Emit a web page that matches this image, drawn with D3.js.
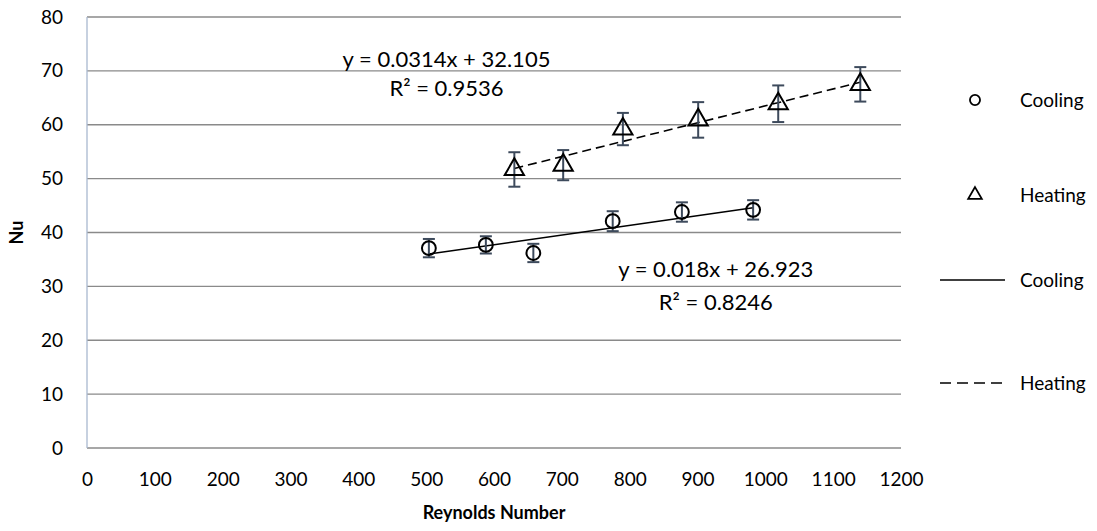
<!DOCTYPE html>
<html>
<head>
<meta charset="utf-8">
<script src="https://cdn.jsdelivr.net/npm/d3@7/dist/d3.min.js"></script>
<style>
  html, body { margin: 0; padding: 0; background: #ffffff; }
  svg { display: block; }
  text { font-family: Lato, "Open Sans", sans-serif; fill: #000; }
</style>
</head>
<body>
<svg id="chart" width="1097" height="531"></svg>
<script>
// Nusselt number vs Reynolds number, cooling and heating runs
const coolingRe  = [504, 588, 658, 775, 877, 982];
const coolingNu  = [37.1, 37.7, 36.2, 42.1, 43.8, 44.2];
const coolingErr = [1.7, 1.6, 1.7, 1.85, 1.8, 1.8];

const heatingRe  = [630, 702, 790, 901, 1019, 1140];
const heatingNu  = [51.7, 52.5, 59.2, 60.9, 63.9, 67.5];
const heatingErr = [3.2, 2.8, 3.0, 3.3, 3.4, 3.2];

// linear trendlines: [slope, intercept, R²]
const coolingFit = [0.018, 26.923, 0.8246];
const heatingFit = [0.0314, 32.105, 0.9536];

const xTicks = [0, 100, 200, 300, 400, 500, 600, 700, 800, 900, 1000, 1100, 1200];
const yTicks = [0, 10, 20, 30, 40, 50, 60, 70, 80];

const legendLabels = ["Cooling", "Heating", "Cooling", "Heating"];

const svg = d3.select("#chart");
const plot = { left: 87, top: 17, right: 901, bottom: 448 };

const x = d3.scaleLinear().domain([0, 1200]).range([plot.left, plot.right]);
const y = d3.scaleLinear().domain([0, 80]).range([plot.bottom, plot.top]);

// horizontal gridlines
svg.append("g")
  .selectAll("line")
  .data(yTicks)
  .join("line")
  .attr("x1", plot.left).attr("x2", plot.right)
  .attr("y1", d => y(d)).attr("y2", d => y(d))
  .attr("stroke", "#8a8a8a")
  .attr("stroke-width", 1.3);

// vertical axis line
svg.append("line")
  .attr("x1", plot.left).attr("x2", plot.left)
  .attr("y1", plot.top).attr("y2", plot.bottom)
  .attr("stroke", "#a9b8d0").attr("stroke-width", 1.3);

// y tick labels
const yAxis = d3.axisLeft(y).tickValues(yTicks).tickSize(0).tickPadding(24);
const gy = svg.append("g").attr("transform", `translate(${plot.left},0)`).call(yAxis);
gy.select(".domain").remove();
gy.selectAll("text").style("font-size", "19px").attr("font-family", "Lato, sans-serif");

// x tick labels
const xAxis = d3.axisBottom(x).tickValues(xTicks).tickFormat(d3.format("d"))
  .tickSize(0).tickPadding(25);
const gx = svg.append("g").attr("transform", `translate(0,${plot.bottom})`).call(xAxis);
gx.select(".domain").remove();
gx.selectAll("text").style("font-size", "19px").attr("font-family", "Lato, sans-serif");

// axis titles
svg.append("text")
  .attr("x", (plot.left + plot.right) / 2)
  .attr("y", 519)
  .attr("text-anchor", "middle")
  .style("font-size", "18px").style("font-weight", "bold")
  .text("Reynolds Number");

svg.append("text")
  .attr("transform", `translate(23,${(plot.top + plot.bottom) / 2}) rotate(-90)`)
  .attr("text-anchor", "middle")
  .style("font-size", "18px").style("font-weight", "bold")
  .text("Nu");

// trendlines
function trend(fit, xs, dash) {
  const x0 = d3.min(xs), x1 = d3.max(xs);
  svg.append("line")
    .attr("x1", x(x0)).attr("y1", y(fit[0] * x0 + fit[1]))
    .attr("x2", x(x1)).attr("y2", y(fit[0] * x1 + fit[1]))
    .attr("stroke", "#000").attr("stroke-width", 1.6)
    .attr("stroke-dasharray", dash);
}
trend(coolingFit, coolingRe, null);
trend(heatingFit, heatingRe, "9,5");

// error bars
function errorBars(xs, ys, es) {
  const g = svg.append("g").attr("stroke", "#3d4a5c").attr("stroke-width", 2);
  xs.forEach((xv, i) => {
    const cx = x(xv), top = y(ys[i] + es[i]), bot = y(ys[i] - es[i]);
    g.append("line").attr("x1", cx).attr("x2", cx).attr("y1", top).attr("y2", bot);
    g.append("line").attr("x1", cx - 6).attr("x2", cx + 6).attr("y1", top).attr("y2", top);
    g.append("line").attr("x1", cx - 6).attr("x2", cx + 6).attr("y1", bot).attr("y2", bot);
  });
}
errorBars(coolingRe, coolingNu, coolingErr);
errorBars(heatingRe, heatingNu, heatingErr);

// markers
const circleSym = d3.symbol().type(d3.symbolCircle).size(150);
const triSym = d3.symbol().type(d3.symbolTriangle).size(160);

svg.append("g").selectAll("path")
  .data(coolingRe.map((r, i) => [r, coolingNu[i]]))
  .join("path")
  .attr("d", circleSym)
  .attr("transform", d => `translate(${x(d[0])},${y(d[1])})`)
  .attr("fill", "none").attr("stroke", "#000").attr("stroke-width", 2);

svg.append("g").selectAll("path")
  .data(heatingRe.map((r, i) => [r, heatingNu[i]]))
  .join("path")
  .attr("d", triSym)
  .attr("transform", d => `translate(${x(d[0])},${y(d[1])})`)
  .attr("fill", "none").attr("stroke", "#000").attr("stroke-width", 2);

// trendline equations
function eqLabel(fit, cx, nuEq, nuR2) {
  svg.append("text").attr("x", x(cx)).attr("y", y(nuEq))
    .attr("text-anchor", "middle").style("font-size", "22px")
    .text(`y = ${fit[0]}x + ${fit[1]}`);
  svg.append("text").attr("x", x(cx)).attr("y", y(nuR2))
    .attr("text-anchor", "middle").style("font-size", "22px")
    .text(`R² = ${fit[2]}`);
}
eqLabel(heatingFit, 530, 70.7, 65.3);
eqLabel(coolingFit, 927, 31.7, 25.6);

// legend
const lg = svg.append("g");
const legY = [100, 195, 280, 383];
lg.append("path").attr("d", d3.symbol().type(d3.symbolCircle).size(80))
  .attr("transform", `translate(975,${legY[0]})`)
  .attr("fill", "none").attr("stroke", "#000").attr("stroke-width", 1.8);
lg.append("path").attr("d", d3.symbol().type(d3.symbolTriangle).size(80))
  .attr("transform", `translate(975,${legY[1]})`)
  .attr("fill", "none").attr("stroke", "#000").attr("stroke-width", 1.8);
lg.append("line").attr("x1", 940).attr("x2", 1005).attr("y1", legY[2]).attr("y2", legY[2])
  .attr("stroke", "#000").attr("stroke-width", 1.6);
lg.append("line").attr("x1", 940).attr("x2", 1005).attr("y1", legY[3]).attr("y2", legY[3])
  .attr("stroke", "#000").attr("stroke-width", 1.6).attr("stroke-dasharray", "11,6");
lg.selectAll("text").data(legendLabels).join("text")
  .attr("x", 1020).attr("y", (d, i) => legY[i])
  .attr("dy", "0.35em").style("font-size", "19px")
  .text(d => d);
</script>
</body>
</html>
